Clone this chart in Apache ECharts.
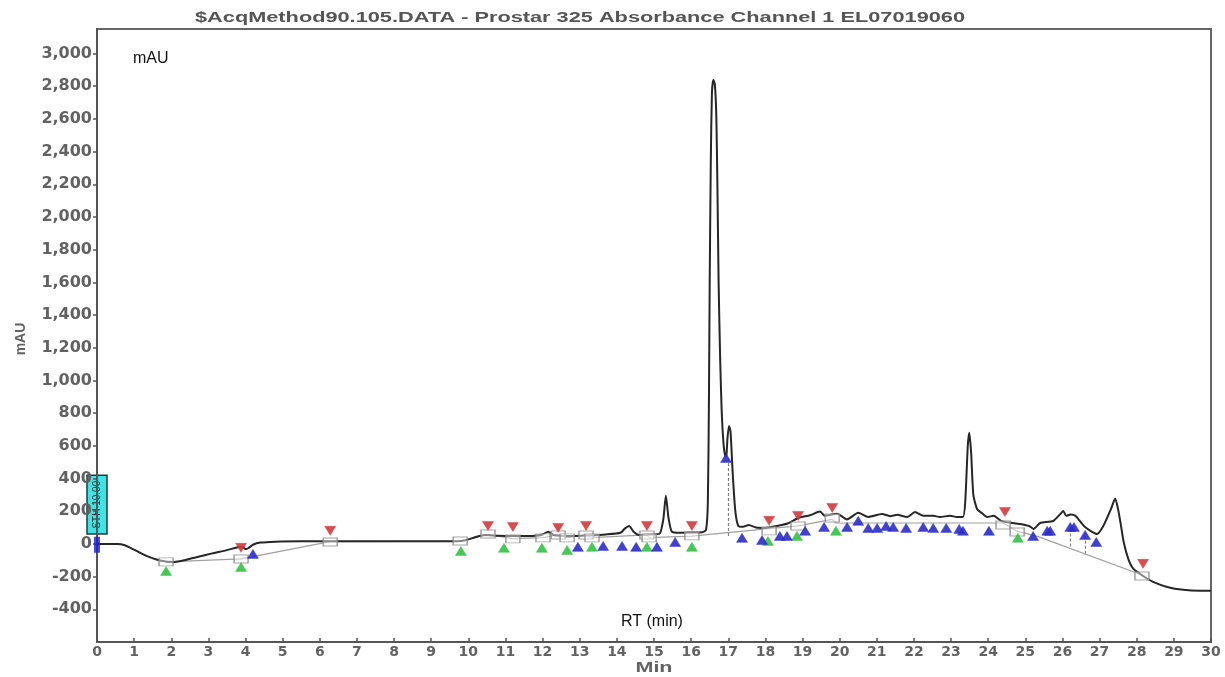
<!DOCTYPE html>
<html>
<head>
<meta charset="utf-8">
<script src="https://cdn.jsdelivr.net/npm/echarts@6/dist/echarts.min.js"></script>
<style>
  html, body { margin: 0; padding: 0; background: #ffffff; }
  #chart { width: 1225px; height: 677px; }
</style>
</head>
<body>
<div id="chart"></div>
<script>
// ---- chromatogram data: retention time (min), absorbance (mAU) ----
const chartTitle = '$AcqMethod90.105.DATA - Prostar 325 Absorbance Channel 1 EL07019060';
const eventLabel = 'STH 10.00';
const xRange = [0, 30];
const yRange = [-600, 3150];

const trace = [
  [0, 0], [0.55, 0], [0.75, -8], [1.0, -35], [1.3, -70], [1.6, -95], [1.85, -108], [2.1, -110],
  [2.35, -100], [2.7, -80], [3.1, -58], [3.5, -38], [3.8, -20], [3.92, -18], [4.0, -32], [4.08, -25],
  [4.2, -5], [4.4, 8], [4.8, 14], [5.5, 16], [7, 16], [8.5, 16], [9.7, 16], [9.95, 24], [10.2, 42],
  [10.45, 54], [10.8, 50], [11.3, 48], [11.8, 50], [12.0, 58], [12.15, 75], [12.3, 55], [12.7, 48],
  [13.2, 52], [13.7, 58], [14.1, 68], [14.22, 95], [14.33, 110], [14.45, 75], [14.6, 55], [14.9, 58],
  [15.15, 62], [15.25, 150], [15.32, 294], [15.39, 160], [15.48, 75], [15.7, 68], [16.0, 70], [16.3, 72],
  [16.4, 85], [16.45, 250], [16.48, 900], [16.5, 1600], [16.53, 2350], [16.56, 2760], [16.6, 2840],
  [16.64, 2810], [16.68, 2600], [16.71, 2150], [16.74, 1600], [16.78, 1150], [16.82, 830],
  [16.87, 620], [16.92, 535], [16.95, 540], [16.98, 650], [17.02, 722], [17.06, 690],
  [17.12, 430], [17.19, 200], [17.27, 110], [17.4, 105], [17.55, 116], [17.75, 100], [18.0, 98],
  [18.3, 110], [18.6, 125], [18.9, 160], [19.2, 175], [19.47, 198], [19.6, 172], [19.93, 185],
  [20.2, 150], [20.5, 190], [20.77, 165], [21.14, 183], [21.36, 170], [21.55, 178], [21.82, 165],
  [22.03, 195], [22.25, 172], [22.52, 172], [22.7, 165], [22.97, 172], [23.16, 165], [23.32, 165],
  [23.38, 250], [23.45, 600], [23.49, 680], [23.54, 560], [23.6, 300], [23.7, 214], [23.85, 185],
  [23.97, 165], [24.15, 172], [24.35, 140], [24.85, 122], [25.1, 110], [25.22, 92], [25.4, 128],
  [25.75, 140], [25.95, 185], [26.02, 202], [26.1, 172], [26.22, 180], [26.35, 172], [26.6, 105],
  [26.93, 61], [27.1, 110], [27.3, 210], [27.42, 278], [27.5, 210], [27.57, 120], [27.65, 10],
  [27.77, -90], [27.9, -150], [28.17, -196], [28.44, -232], [28.82, -263], [29.25, -281], [29.7, -287],
  [30, -287]
];

// integration baseline
const baseline = [
  [1.86, -110], [3.88, -92], [6.28, 14], [9.78, 16], [10.53, 58], [11.2, 32], [12.01, 38], [12.42, 55],
  [12.66, 38], [13.17, 55], [13.33, 38], [14.81, 55], [14.87, 38], [16.02, 48], [17.95, 90], [18.88, 110],
  [19.8, 150], [19.9, 128], [24.4, 128], [24.78, 78], [25.35, 45], [28.14, -190]
];

// baseline anchor boxes
const baseMarks = [
  [1.86, -110], [3.88, -92], [6.28, 12], [9.78, 18], [10.53, 61], [11.2, 31], [12.01, 37], [12.42, 55],
  [12.66, 37], [13.17, 55], [13.33, 37], [14.81, 55], [14.87, 37], [16.02, 49], [18.1, 80], [18.88, 110],
  [19.8, 159], [24.4, 116], [24.78, 73], [28.14, -196]
];

// peak apex flags (red, pointing down)
const apexMarks = [
  [3.88, -24], [6.28, 80], [10.53, 110], [11.2, 104], [12.42, 98], [13.17, 110], [14.81, 110],
  [16.02, 110], [18.1, 141], [18.88, 171], [19.8, 220], [24.45, 196], [28.17, -122]
];

// peak start flags (green)
const startMarks = [
  [1.86, -165], [3.88, -141], [9.8, -43], [10.96, -24], [11.98, -24], [12.66, -37], [13.33, -18],
  [14.81, -18], [16.02, -18], [18.07, 18], [18.85, 49], [19.9, 80], [24.8, 37]
];

// peak split flags (blue)
const splitMarks = [
  [4.2, -61], [12.95, -18], [13.63, -12], [14.14, -12], [14.52, -18], [15.08, -18], [15.57, 12],
  [16.94, 526], [17.37, 37], [17.91, 24], [18.39, 49], [18.58, 49], [19.07, 80], [19.58, 104],
  [20.2, 104], [20.5, 141], [20.77, 98], [21.01, 98], [21.25, 110], [21.44, 104], [21.79, 98],
  [22.25, 104], [22.52, 98], [22.87, 98], [23.22, 92], [23.32, 80], [24.02, 80], [25.21, 49],
  [25.59, 80], [25.67, 80], [26.21, 104], [26.31, 104], [26.61, 55], [26.91, 12]
];

// perpendicular drop lines between merged peaks
const dropLines = [
  [[16.99, 525], [16.99, 48]],
  [[26.2, 95], [26.2, -20]],
  [[26.62, 50], [26.62, -58]]
];

// integration event at injection
const eventMarks = [[0, -5]];
const eventSpan = [60, 420];

// ---- rendering ----
const chart = echarts.init(document.getElementById('chart'), null, { renderer: 'canvas' });

function measure(str, font) {
  const ctx = document.createElement('canvas').getContext('2d');
  ctx.font = font;
  return ctx.measureText(str).width;
}

const titleFont = 'bold 14px "Liberation Sans"';
const titleScale = 770 / measure(chartTitle, titleFont);
const minFont = 'bold 14px "Liberation Sans"';
const minScale = 37 / measure('Min', minFont);

const axisGray = '#626262';
const tri = (color, rot) => ({
  type: 'scatter', symbol: 'triangle', symbolSize: [11, 9], symbolRotate: rot || 0,
  itemStyle: { color: color, borderColor: color, borderWidth: 0.5, opacity: 0.9 },
  z: 6, silent: true
});

const option = {
  animation: false,
  backgroundColor: '#ffffff',
  grid: {
    left: 97, right: 14, top: 29, bottom: 35,
    show: true, borderColor: '#666666', borderWidth: 2, backgroundColor: 'transparent'
  },
  xAxis: {
    type: 'value', min: xRange[0], max: xRange[1], interval: 1,
    axisLine: { show: true, onZero: false, lineStyle: { color: '#555555', width: 2 } },
    axisTick: { show: true, inside: true, length: 4, lineStyle: { color: '#555555', width: 1.5 } },
    axisLabel: {
      margin: 3, color: axisGray, fontFamily: 'DejaVu Sans', fontWeight: 'bold', fontSize: 14
    },
    splitLine: { show: false }
  },
  yAxis: {
    type: 'value', min: yRange[0], max: yRange[1], interval: 200,
    axisLine: { show: true, onZero: false, lineStyle: { color: '#555555', width: 2 } },
    axisTick: { show: true, inside: false, length: 4, lineStyle: { color: '#555555', width: 1.5 } },
    axisLabel: {
      margin: 5, color: axisGray, fontFamily: 'DejaVu Sans', fontWeight: 'bold', fontSize: 16,
      showMinLabel: false, showMaxLabel: false,
      formatter: v => v.toLocaleString('en-US')
    },
    splitLine: { show: false }
  },
  series: [
    {
      name: 'baseline', type: 'line', data: baseline, showSymbol: false, silent: true,
      lineStyle: { color: '#a0a0a0', width: 1.2 }, z: 2,
      markLine: {
        silent: true, symbol: ['none', 'none'], label: { show: false },
        lineStyle: { color: '#808080', width: 1.2, type: [3, 2] },
        data: dropLines.map(seg => [{ coord: seg[0] }, { coord: seg[1] }])
      }
    },
    {
      name: 'signal', type: 'line', data: trace, showSymbol: false, silent: true,
      smooth: 0.2,
      lineStyle: { color: '#262626', width: 2, join: 'round' }, z: 4
    },
    {
      name: 'base marks', type: 'scatter', data: baseMarks, symbol: 'rect', symbolSize: [14, 8],
      itemStyle: { color: 'rgba(255,255,255,0.55)', borderColor: '#8c8c8c', borderWidth: 1.2 },
      z: 5, silent: true
    },
    Object.assign({ name: 'apex', data: apexMarks }, tri('#d23a3e', 180)),
    Object.assign({ name: 'start', data: startMarks }, tri('#33c145')),
    Object.assign({ name: 'split', data: splitMarks }, tri('#2c2cc8')),
    {
      name: 'event', type: 'scatter', data: eventMarks, symbol: 'rect', symbolSize: [6, 16],
      itemStyle: { color: '#1b1bd6' }, z: 8, silent: true
    }
  ]
};

chart.setOption(option);

// annotations and axis names
const pTop = chart.convertToPixel({ gridIndex: 0 }, [0, eventSpan[1]]);
const pBot = chart.convertToPixel({ gridIndex: 0 }, [0, eventSpan[0]]);
const boxH = pBot[1] - pTop[1];

chart.setOption({
  graphic: [
    {
      type: 'text', x: 195, y: 18, scaleX: titleScale, originX: 0,
      style: { text: chartTitle, font: titleFont, fill: '#555555', textVerticalAlign: 'middle' }
    },
    {
      type: 'text', x: 133, y: 59,
      style: { text: 'mAU', font: '16px "Liberation Sans"', fill: '#111111', textVerticalAlign: 'middle' }
    },
    {
      type: 'text', x: 621, y: 622,
      style: { text: 'RT (min)', font: '16px "Liberation Sans"', fill: '#111111', textVerticalAlign: 'middle' }
    },
    {
      type: 'text', x: 654, y: 668, scaleX: minScale,
      style: { text: 'Min', font: minFont, fill: axisGray, textAlign: 'center', textVerticalAlign: 'middle' }
    },
    {
      type: 'text', x: 21, y: 339, rotation: Math.PI / 2,
      style: { text: 'mAU', font: 'bold 14px "Liberation Sans"', fill: axisGray, textAlign: 'center', textVerticalAlign: 'middle' }
    },
    {
      type: 'group', x: pTop[0], y: pTop[1], z: 20,
      children: [
        {
          type: 'rect', shape: { x: -10, y: 0, width: 20, height: boxH },
          style: { fill: '#3fe3e3', stroke: '#1e3e3e', lineWidth: 1.5 }
        },
        {
          type: 'text', x: 0, y: boxH / 2, rotation: Math.PI / 2,
          style: { text: eventLabel, font: '10px "Liberation Sans"', fill: '#1a2a2a', textAlign: 'center', textVerticalAlign: 'middle' }
        }
      ]
    }
  ]
});
</script>
</body>
</html>
